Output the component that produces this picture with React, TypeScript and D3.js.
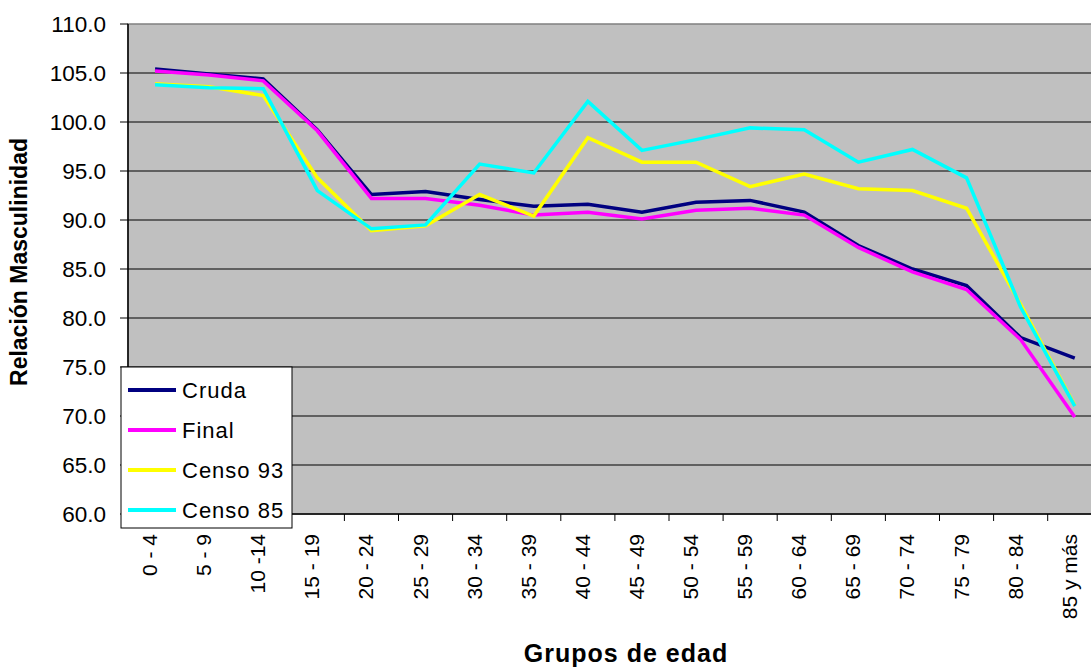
import React from "react";
import * as d3 from "d3";

const categories = ["0 - 4","5 - 9","10 -14","15 - 19","20 - 24","25 - 29","30 - 34","35 - 39","40 - 44","45 - 49","50 - 54","55 - 59","60 - 64","65 - 69","70 - 74","75 - 79","80 - 84","85 y más"];
const cruda = [105.4,104.9,104.4,99.2,92.6,92.9,92.1,91.4,91.6,90.8,91.8,92.0,90.8,87.4,85.0,83.3,78.0,75.9];
const final = [105.2,104.8,104.2,99.1,92.2,92.2,91.5,90.5,90.8,90.1,91.0,91.2,90.5,87.2,84.7,82.9,77.8,69.9];
const censo93 = [103.9,103.6,102.7,94.3,88.9,89.4,92.6,90.4,98.4,95.9,95.9,93.4,94.7,93.2,93.0,91.2,81.4,71.1];
const censo85 = [103.8,103.5,103.4,93.0,89.1,89.5,95.7,94.8,102.1,97.1,98.2,99.4,99.2,95.9,97.2,94.3,81.1,71.0];
const yTicks = [60,65,70,75,80,85,90,95,100,105,110];

const series = [
  { name: "Cruda", values: cruda, color: "#000080" },
  { name: "Final", values: final, color: "#FF00FF" },
  { name: "Censo 93", values: censo93, color: "#FFFF00" },
  { name: "Censo 85", values: censo85, color: "#00FFFF" },
];

export default function App() {
  const W = 1091, H = 667;
  const left = 128, right = 1101.8, top = 24, bottom = 514;
  const x = d3.scaleBand<string>().domain(categories).range([left, right]).padding(0);
  const y = d3.scaleLinear().domain([60, 110]).range([bottom, top]);
  const cx = (c: string) => (x(c) as number) + x.bandwidth() / 2;
  const line = d3.line<number>().x((_, i) => cx(categories[i])).y((v) => y(v));
  const font = "Arial, 'Liberation Sans', sans-serif";

  return (
    <svg width={W} height={H} style={{ position: "absolute", left: 0, top: 0, background: "#fff" }} fontFamily={font}>
      <rect x={left} y={top} width={right - left} height={bottom - top} fill="#C0C0C0" stroke="#808080" strokeWidth={1.5} />
      {yTicks.map((t) => (
        <g key={t}>
          {t !== 60 && t !== 110 && (
            <line x1={left} x2={right} y1={y(t)} y2={y(t)} stroke="#000" strokeWidth={1} />
          )}
          <line x1={left - 8} x2={left} y1={y(t)} y2={y(t)} stroke="#000" strokeWidth={1} />
          <text x={106} y={y(t)} dy="0.36em" textAnchor="end" fontSize={22.5} fill="#000">
            {t.toFixed(1)}
          </text>
        </g>
      ))}
      <line x1={left} x2={left} y1={top} y2={bottom} stroke="#000" strokeWidth={1.5} />
      <line x1={left} x2={right} y1={bottom} y2={bottom} stroke="#000" strokeWidth={1.5} />
      {categories.map((c) => (
        <line key={"t" + c} x1={x(c) as number} x2={x(c) as number} y1={bottom} y2={bottom + 7} stroke="#000" strokeWidth={1} />
      ))}
      {categories.map((c) => (
        <text key={"l" + c} transform={`translate(${cx(c) + 2},${534}) rotate(-90)`} textAnchor="end" fontSize={21} fill="#000">
          {c}
        </text>
      ))}
      {series.map((s) => (
        <path key={s.name} d={line(s.values) || ""} fill="none" stroke={s.color} strokeWidth={3.5} strokeLinejoin="miter" />
      ))}
      <rect x={121} y={367} width={171} height={161} fill="#fff" stroke="#000" strokeWidth={1} />
      {series.map((s, i) => (
        <g key={"lg" + s.name}>
          <line x1={128} x2={176} y1={390 + i * 40} y2={390 + i * 40} stroke={s.color} strokeWidth={4} />
          <text x={182} y={390 + i * 40} dy="0.36em" fontSize={22} letterSpacing={1} fill="#000">{s.name}</text>
        </g>
      ))}
      <text x={626} y={662} textAnchor="middle" fontSize={25} fontWeight="bold" letterSpacing={1} fill="#000">Grupos de edad</text>
      <text transform={`translate(27,262) rotate(-90)`} textAnchor="middle" fontSize={23} fontWeight="bold" fill="#000">Relación Masculinidad</text>
    </svg>
  );
}
